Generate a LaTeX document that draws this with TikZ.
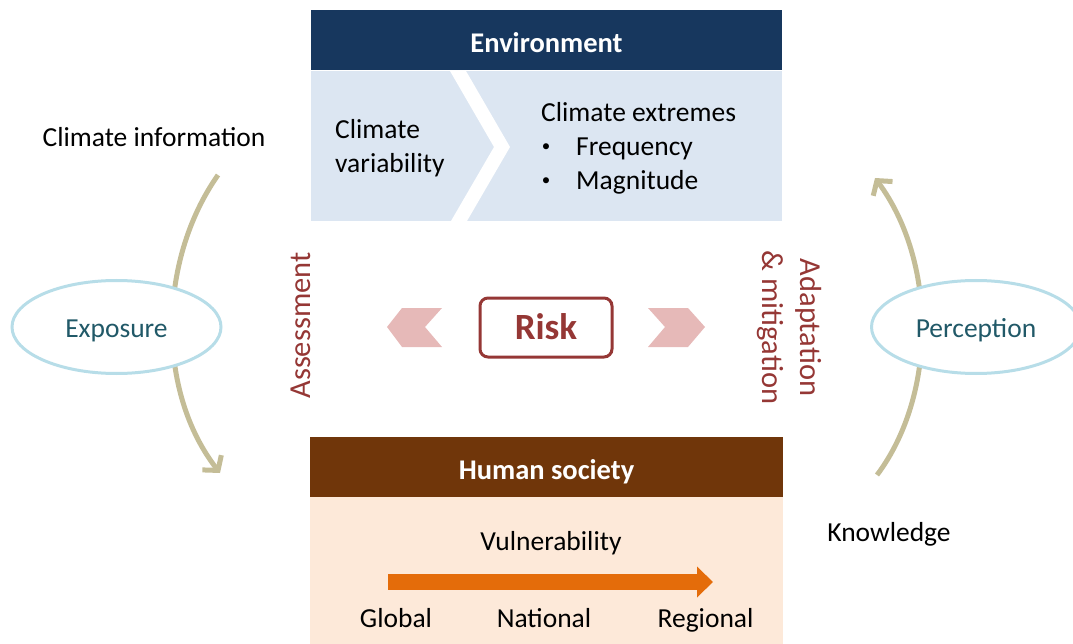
\documentclass[tikz,border=0pt]{standalone}
\usepackage{fontspec}
\setmainfont{Carlito}
\usetikzlibrary{arrows.meta,shapes.geometric}
\definecolor{envnavy}{HTML}{17375E}
\definecolor{envlight}{HTML}{DCE6F2}
\definecolor{socbrown}{HTML}{70360A}
\definecolor{socpeach}{HTML}{FDE9D9}
\definecolor{vulorange}{HTML}{E46C0A}
\definecolor{riskred}{HTML}{953735}
\definecolor{chevpink}{HTML}{E6B9B8}
\definecolor{loopkhaki}{HTML}{C4BD97}
\definecolor{ovalblue}{HTML}{B7DDE8}
\definecolor{ovalteal}{HTML}{215968}
\begin{document}
\begin{tikzpicture}[x=1pt,y=-1pt,
		txt/.style={font=\fontsize{27.5}{34}\selectfont,inner sep=0pt},
		head/.style={font=\fontsize{28.5}{34}\selectfont\bfseries,text=white,minimum height=60pt,text height=24pt,text depth=0pt},
		oval/.style={ellipse,draw=ovalblue,line width=3pt,fill=white,minimum width=209pt,minimum height=93pt,text=ovalteal,font=\fontsize{27.5}{34}\selectfont,text height=20pt,text depth=0pt},
		loop/.style={draw=loopkhaki,line width=5pt,-{Straight Barb[length=10pt,width=24pt]}},
		vert/.style={text=riskred,font=\fontsize{30.5}{38}\selectfont,align=center,inner sep=0pt},
		chev/.style={fill=chevpink}]
		\useasboundingbox (0,0) rectangle (1073,644);
		
		\fill[envlight] (311,71) rectangle (782,221);
		\fill[white] (450,71) -- (466,71) -- (510,147) -- (467,221) -- (451,221) -- (494,147) -- cycle;
		\node[head,fill=envnavy,minimum width=471pt] (env) at (546.5,40.5) {Environment};
		\node[txt,anchor=base west] (cli) at (335,139) {Climate};
		\node[txt,anchor=base west] (var) at (335,173) {variability};
		\node[txt,anchor=base west] (ext) at (541,122) {Climate extremes};
		\foreach \y/\w[count=\i] in {156/Frequency,190/Magnitude}{
			\node[txt,font=\fontsize{17}{20}\selectfont] (b\i) at (546,\y-8) {•};
			\node[txt,anchor=base west] (w\i) at (576,\y) {\w};
		}
		
		\fill[socpeach] (310,497) rectangle (783,644);
		\node[head,fill=socbrown,minimum width=473pt] (soc) at (546.5,467) {Human society};
		\node[txt,anchor=base] (vul) at (551,550) {Vulnerability};
		\coordinate (vs) at (388,582);
		\coordinate (ve) at (713,582);
		\draw[vulorange,line width=16pt,-{Triangle[length=16pt,width=30pt]}] (vs) -- (ve);
		\foreach \x/\w[count=\i] in {396/Global,544/National,705.5/Regional}{
			\node[txt,anchor=base] (s\i) at (\x,627) {\w};
		}
		
		\node[draw=riskred,line width=3pt,rounded corners=8pt,minimum width=132pt,minimum height=59pt,text=riskred,font=\fontsize{37}{40}\selectfont\bfseries,text height=23pt,text depth=0pt] (risk) at (546,327.5) {Risk};
		\fill[chev] (387,327) -- (402,308) -- (442,308) -- (425,327) -- (442,347) -- (402,347) -- cycle;
		\fill[chev] (648,308) -- (688,308) -- (705,327) -- (688,347) -- (648,347) -- (665,327) -- cycle;
		\node[vert,rotate=90,anchor=base] (ass) at (310,325.5) {Assessment};
		\node[vert,rotate=-90] (ada) at (789,327.5) {Adaptation\\\& mitigation};
		
		\node[txt,anchor=base] (info) at (154,147) {Climate information};
		\node[txt,anchor=base] (know) at (889,541) {Knowledge};
		\coordinate (ls) at (218,175);
		\coordinate (le) at (220,473);
		\coordinate (rs) at (877,475);
		\coordinate (re) at (875,178);
		\draw[loop] (ls) .. controls (157,262) and (157,392) .. (le);
		\draw[loop] (rs) .. controls (937,395) and (937,262) .. (re);
		\node[oval] (exp) at (116.5,327) {Exposure};
		\node[oval] (per) at (976,327) {Perception};
\end{tikzpicture}
\end{document}
